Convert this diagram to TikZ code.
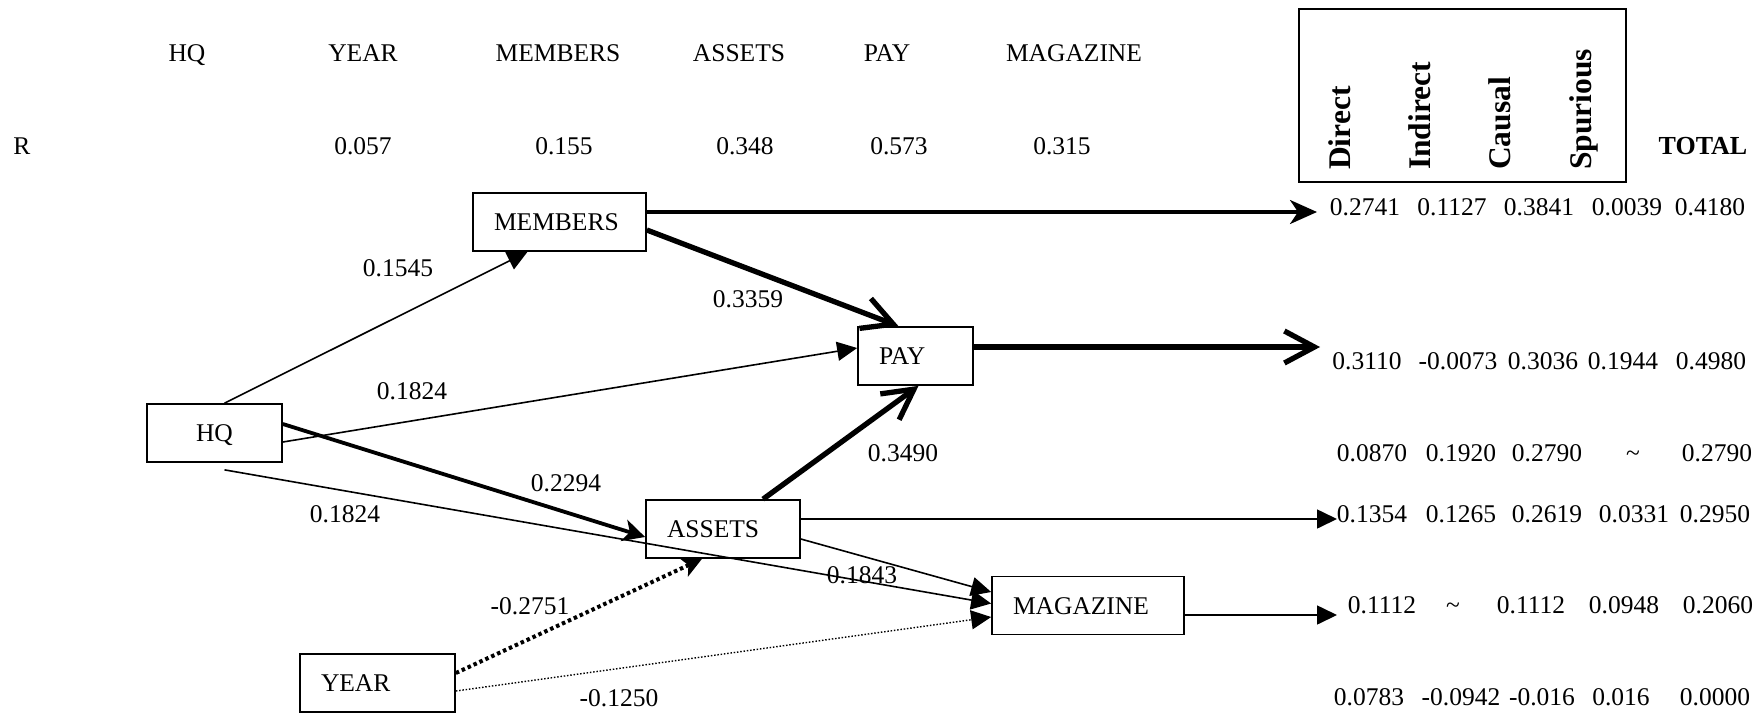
\documentclass[tikz,border=0pt]{standalone}
\usepackage{fontspec}
\setmainfont{Liberation Serif}
\usetikzlibrary{arrows.meta}
\newcommand\mysz{\fontsize{25.5}{30}\selectfont}
\newcommand\myhd{\fontsize{31.5}{36}\selectfont\bfseries}
\begin{document}
\begin{tikzpicture}[x=1pt,y=-1pt,
  varbox/.style={draw, line width=1.7pt, minimum height=58pt, inner xsep=21pt, inner ysep=0pt,
                 text height=17pt, text depth=0pt, align=left, font=\mysz},
  lbl/.style={inner sep=0pt, anchor=base, font=\mysz},
  vlbl/.style={inner sep=0pt, anchor=base west, rotate=90, font=\myhd},
  ln/.style={line width=1.6pt},
  bold1/.style={line width=3.3pt},
  bold2/.style={line width=3.8pt},
  bold3/.style={line width=5.3pt},
  tri/.style={-{Triangle[length=20pt,width=19pt]}},
  stl/.style={-{Stealth[length=27pt,width=24pt,inset=8pt]}},
  stls/.style={-{Stealth[length=22pt,width=22pt,inset=6pt]}},
  barb/.style={-{Straight Barb[length=30pt,width=32pt]}},
  dotthick/.style={line width=4pt, dash pattern=on 3.5pt off 3pt},
  dotthin/.style={line width=1.4pt, dash pattern=on 1.5pt off 1.8pt}
]
\useasboundingbox (0,0) rectangle (1764,713);

% header row
\node[lbl] (hHQ) at (187,61) {HQ};
\node[lbl] (hYR) at (363,61) {YEAR};
\node[lbl] (hME) at (558,61) {MEMBERS};
\node[lbl] (hAS) at (739,61) {ASSETS};
\node[lbl] (hPA) at (887,61) {PAY};
\node[lbl] (hMA) at (1074,61) {MAGAZINE};
% R row
\node[lbl] (rR) at (22,154.5) {R};
\node[lbl] (rYR) at (363,154.5) {0.057};
\node[lbl] (rME) at (564,154.5) {0.155};
\node[lbl] (rAS) at (745,154.5) {0.348};
\node[lbl] (rPA) at (899,154.5) {0.573};
\node[lbl] (rMA) at (1062,154.5) {0.315};

% legend box
\draw[line width=1.7pt] (1299,9) rectangle (1626,182);
\node[vlbl] (cDir) at (1350,170) {Direct};
\node[vlbl] (cInd) at (1430,170) {Indirect};
\node[vlbl] (cCau) at (1510,170) {Causal};
\node[vlbl] (cSpu) at (1591,170) {Spurious};
\node[lbl, font=\fontsize{26}{30}\selectfont\bfseries] (cTot) at (1703,154.5) {TOTAL};

% variable boxes
\node[varbox, text width=93pt, align=center] (HQ) at (214.5,433) {HQ};
\node[varbox, text width=131pt] (MEM) at (559.5,222) {MEMBERS};
\node[varbox, text width=73pt] (PAY) at (915.5,356) {PAY};
\node[varbox, text width=112pt] (AST) at (723,529) {ASSETS};
\node[varbox, text width=150pt] (MAG) at (1088,605.5) {MAGAZINE};
\node[varbox, text width=113pt] (YEAR) at (377.5,683) {YEAR};

% free ends
\coordinate (e1) at (1317,212);
\coordinate (e2) at (1320,347);
\coordinate (e4) at (1337,519);
\coordinate (e5) at (1337,615);

% connectors
\draw[ln, tri] ([xshift=10pt]HQ.north) -- ([xshift=-32pt]MEM.south);
\draw[bold1, stl] ([yshift=10pt]MEM.east) -- (e1);
\draw[bold3, barb] ([yshift=-8pt]MEM.east) -- ([xshift=-17pt]PAY.north);
\draw[ln, tri] ([yshift=-9pt]HQ.east) -- ([yshift=8pt]PAY.west);
\draw[bold2, stls] ([yshift=9pt]HQ.east) -- ([yshift=-8pt]AST.west);
\draw[ln, tri] ([xshift=10pt,yshift=-7pt]HQ.south) -- ([yshift=2pt]MAG.west);
\draw[bold3, barb] ([xshift=40pt]AST.north) -- ([xshift=3pt]PAY.south);
\draw[bold3, barb] ([yshift=9pt]PAY.east) -- (e2);
\draw[ln, tri] ([yshift=10pt]AST.east) -- (e4);
\draw[ln, tri] ([yshift=-10pt]AST.east) -- ([yshift=13.5pt]MAG.west);
\draw[ln, tri] ([yshift=-9.5pt]MAG.east) -- (e5);
\draw[dotthick, -{Stealth[length=20pt,width=20pt,inset=5pt]}] ([yshift=10pt]YEAR.east) -- ([xshift=-21pt]AST.south);
\draw[dotthin, tri] ([yshift=-8pt]YEAR.east) -- ([yshift=-11.5pt]MAG.west);

% path coefficients
\node[lbl] (k1) at (398,276.5) {0.1545};
\node[lbl] (k2) at (748,307.5) {0.3359};
\node[lbl] (k3) at (412,399.5) {0.1824};
\node[lbl] (k4) at (566,491) {0.2294};
\node[lbl] (k5) at (345,522.5) {0.1824};
\node[lbl] (k6) at (862,583) {0.1843};
\node[lbl] (k7) at (903,461) {0.3490};
\node[lbl] (k8) at (530,614) {-0.2751};
\node[lbl] (k9) at (619,706) {-0.1250};

% effects table
\node[lbl] at (1365,215.5) {0.2741};
\node[lbl] at (1452,215.5) {0.1127};
\node[lbl] at (1539,215.5) {0.3841};
\node[lbl] at (1627,215.5) {0.0039};
\node[lbl] at (1710,215.5) {0.4180};

\node[lbl] at (1367,369) {0.3110};
\node[lbl] at (1458,369) {-0.0073};
\node[lbl] at (1543,369) {0.3036};
\node[lbl] at (1623,369) {0.1944};
\node[lbl] at (1711,369) {0.4980};

\node[lbl] at (1372,461) {0.0870};
\node[lbl] at (1461,461) {0.1920};
\node[lbl] at (1547,461) {0.2790};
\node[lbl] at (1633,461) {\textasciitilde};
\node[lbl] at (1717,461) {0.2790};

\node[lbl] at (1372,522) {0.1354};
\node[lbl] at (1461,522) {0.1265};
\node[lbl] at (1547,522) {0.2619};
\node[lbl] at (1634,522) {0.0331};
\node[lbl] at (1715,522) {0.2950};

\node[lbl] at (1382,613) {0.1112};
\node[lbl] at (1453,613) {\textasciitilde};
\node[lbl] at (1531,613) {0.1112};
\node[lbl] at (1624,613) {0.0948};
\node[lbl] at (1718,613) {0.2060};

\node[lbl] at (1369,705) {0.0783};
\node[lbl] at (1461,705) {-0.0942};
\node[lbl] at (1542,705) {-0.016};
\node[lbl] at (1621,705) {0.016};
\node[lbl] at (1715,705) {0.0000};
\end{tikzpicture}
\end{document}
